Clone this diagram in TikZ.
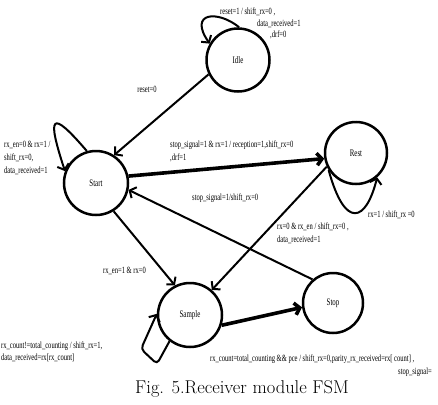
\documentclass[tikz,border=0pt]{standalone}
\usepackage{fontspec}
\newfontfamily\lblfont[FakeStretch=0.69]{Liberation Serif}
\usetikzlibrary{arrows.meta}
\begin{document}
\begin{tikzpicture}[x=1pt,y=-1pt,
  state/.style={circle,draw,line width=2.5pt,inner sep=0pt,font=\lblfont\fontsize{10}{12}\selectfont},
  edge/.style={line width=2pt,-{Straight Barb[length=5pt,width=12pt]}},
  boldedge/.style={edge,line width=3.6pt},
  lbl/.style={font=\lblfont\fontsize{9.5}{11}\selectfont,anchor=west,inner sep=0pt}]
\useasboundingbox (0,0) rectangle (438,404);

\node[state,minimum size=63pt] (idle) at (238,60) {Idle};
\node[state,minimum size=64pt] (start) at (96,183) {Start};
\node[state,minimum size=62pt] (rest) at (356,153) {Rest};
\node[state,minimum size=64pt] (sample) at (190,315) {Sample};
\node[state,minimum size=60pt] (stop) at (333,303) {Stop};

% transitions
\draw[edge] (idle.206) -- (start.57);
\draw[boldedge] (start.12) -- (rest.190);
\draw[edge] (stop.131) -- (start.348);
\draw[edge] (rest.205) -- (sample.49);
\draw[edge] (start.302) -- (sample.117);
\draw[boldedge] (sample.342) -- (stop.188);

% self loops
\draw[edge] (idle.88) .. controls (218,10) and (188,12) .. (idle.150);
\draw[edge] (start.106) .. controls (50,108) and (47,116) .. (start.159);
\draw[edge] (rest.212) .. controls (345,230) and (366,222) .. (rest.311);
\coordinate (sl1) at (157,364);
\coordinate (sl2) at (141,349);
\draw[edge,rounded corners=4pt] (sample.232) -- (sl1) -- (sl2) -- (sample.178);

% labels
\node[lbl] (l1a) at (220,12) {reset=1 / shift\_rx=0 ,};
\node[lbl] (l1b) at (257,24) {data\_received=1};
\node[lbl] (l1c) at (270,35) {,drf=0};
\node[lbl,anchor=center] (l2) at (147,89) {reset=0};
\node[lbl] (l3a) at (4,145) {rx\_en=0 \& rx=1 /};
\node[lbl] (l3b) at (4,158) {shift\_rx=0,};
\node[lbl] (l3c) at (4,171) {data\_received=1};
\node[lbl] (l4a) at (170,145) {stop\_signal=1 \& rx=1 / reception=1,shift\_rx=0};
\node[lbl] (l4b) at (170,158) {,drf=1};
\node[lbl] (l5) at (192,198) {stop\_signal=1/shift\_rx=0};
\node[lbl] (l6) at (368,215) {rx=1 / shift\_rx =0};
\node[lbl] (l7a) at (277,227) {rx=0 \& rx\_en / shift\_rx=0 ,};
\node[lbl] (l7b) at (277,240) {data\_received=1};
\node[lbl] (l8) at (103,271) {rx\_en=1 \& rx=0};
\node[lbl] (l9a) at (1,346) {rx\_count!=total\_counting / shift\_rx=1,};
\node[lbl] (l9b) at (1,358) {data\_received=rx[rx\_count]};
\node[lbl] (l10a) at (210,359) {rx\_count=total\_counting \&\& pce / shift\_rx=0,parity\_rx\_received=rx[ count] ,};
\node[lbl] (l10b) at (398,372) {stop\_signal=};

\node[font=\fontsize{18.5}{20}\selectfont,inner sep=0pt] (cap) at (242,389) {Fig. 5.Receiver module FSM};
\end{tikzpicture}
\end{document}
